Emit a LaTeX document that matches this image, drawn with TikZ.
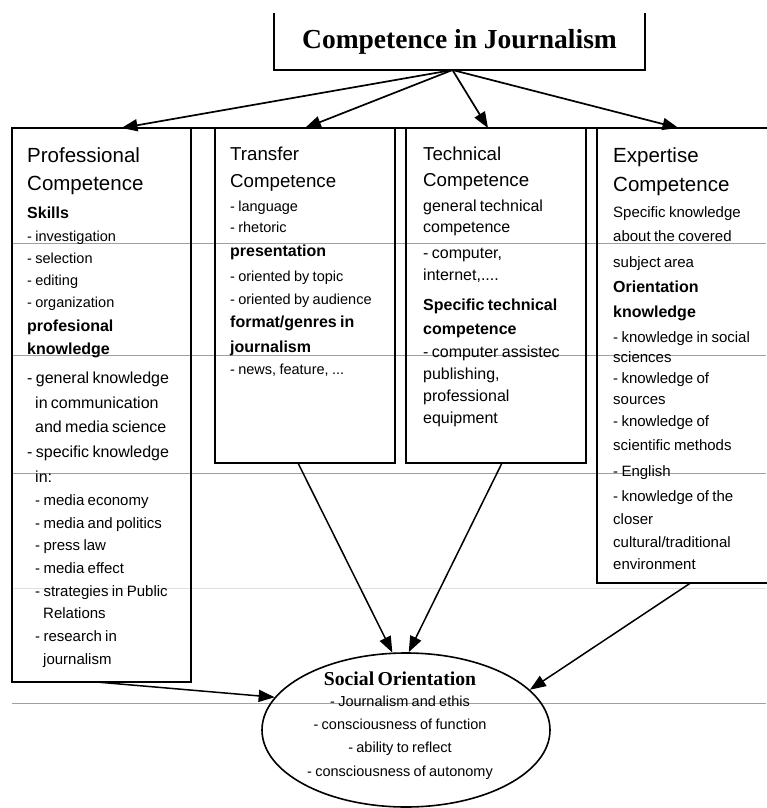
\documentclass[tikz,border=0pt]{standalone}
\usepackage{fontspec}
\setmainfont{Liberation Sans}
\newfontfamily\titlefont{Liberation Serif}
\usetikzlibrary{arrows.meta,positioning,shapes.geometric}
\setlength{\parindent}{0pt}

\newcommand\chead[2][27]{{\fontsize{20.5}{#1}\selectfont #2\par}}
\newcommand\cheadsm[2][26]{{\fontsize{18.7}{#1}\selectfont #2\par}}
\newcommand\csub[2][23]{{\fontsize{16}{#1}\selectfont\bfseries #2\par}}
\newcommand\cbody[2][24]{{\fontsize{16}{#1}\selectfont #2\par}}
\newcommand\citem[2][22]{{\fontsize{14.5}{#1}\selectfont #2\par}}
\newcommand\citemlg[2][23]{{\fontsize{15}{#1}\selectfont #2\par}}

\begin{document}
\begin{tikzpicture}[x=1pt,y=-1pt,
  colbox/.style={draw,line width=1.4pt,anchor=north west,inner sep=0,outer sep=0},
  coltext/.style={anchor=north west,inner sep=0,text width=200pt,align=left},
  rule/.style={draw=gray!75,line width=0.8pt},
  arr/.style={-{Triangle[length=16pt,width=12pt]},line width=1.7pt}]
\useasboundingbox (0,0) rectangle (766,808);

% faint ruling of the scanned table
\draw[rule] (12,243) -- (766,243) (12,355) -- (766,355)
  (12,473) -- (766,473) (12,703) -- (766,703);
\draw[gray!25,line width=0.8pt] (12,588) -- (766,588);
\draw[line width=1.2pt] (12,128) -- (766,128);

\node[minimum width=371pt,minimum height=57pt,inner sep=0,outer sep=0,
  font=\titlefont\bfseries\fontsize{27.5}{30}\selectfont] (top) at (459.5,41.5)
  {Competence in Journalism};
\draw[line width=1.4pt] (top.north west) |- (top.south east) -- (top.north east);
\coordinate (hub) at ([xshift=-7pt]top.south);

\node[colbox,minimum width=179pt,minimum height=554pt] (prof) at (12,128) {};
\node[colbox,minimum width=180pt,minimum height=335pt] (transfer) at (215,128) {};
\node[colbox,minimum width=180pt,minimum height=335pt] (technical) at (406,128) {};
\node[colbox,minimum width=173pt,minimum height=455pt] (expertise) at (597,128) {};

\node[coltext] (proftext) at (27,147) {%
\chead{Professional}
\chead[28]{Competence}
\csub[28]{Skills}
\citem[23]{- investigation}
\citem{- selection}
\citem{- editing}
\citem{- organization}
\csub[24]{profesional}
\csub[23]{knowledge}
\cbody[29]{- general knowledge}
\cbody[25]{\hspace*{8pt}in communication}
\cbody{\hspace*{8pt}and media science}
\cbody[25]{- specific knowledge}
\cbody[25]{\hspace*{8pt}in:}
\citemlg{\hspace*{8pt}- media economy}
\citemlg{\hspace*{8pt}- media and politics}
\citemlg[22]{\hspace*{8pt}- press law}
\citemlg{\hspace*{8pt}- media effect}
\citemlg{\hspace*{8pt}- strategies in Public}
\citemlg[22]{\hspace*{16pt}Relations}
\citemlg{\hspace*{8pt}- research in}
\citemlg{\hspace*{16pt}journalism}};

\node[coltext] (transfertext) at (230,146.4) {%
\cheadsm{Transfer}
\cheadsm[27]{Competence}
\citem[24]{- language}
\citem[21]{- rhetoric}
\csub[24]{presentation}
\citem[25]{- oriented by topic}
\citem[23]{- oriented by audience}
\csub[23]{format/genres in}
\csub[25]{journalism}
\citem[22]{- news, feature, ...}};

\node[coltext] (technicaltext) at (423,146.4) {%
\cheadsm{Technical}
\cheadsm[26]{Competence}
\cbody[25]{general technical}
\cbody[21]{competence}
\cbody[26]{- computer,}
\cbody[22]{internet,....}
\csub[30]{Specific technical}
\csub[24]{competence}
\cbody[23]{- computer assistec}
\cbody[22]{publishing,}
\cbody[22]{professional}
\cbody[22]{equipment}};

\node[coltext] (expertisetext) at (613,147) {%
\chead{Expertise}
\chead[29]{Competence}
\citemlg[26]{Specific knowledge}
\citemlg[24]{about the covered}
\citemlg[26]{subject area}
\csub[25]{Orientation}
\csub[25]{knowledge}
\citemlg[25]{- knowledge in social}
\citemlg[20]{sciences}
\citemlg[21]{- knowledge of}
\citemlg[21]{sources}
\citemlg[22]{- knowledge of}
\citemlg[24]{scientific methods}
\citemlg[26]{- English}
\citemlg[25]{- knowledge of the}
\citemlg[23]{closer}
\citemlg[23]{cultural/traditional}
\citemlg[22]{environment}};

\node[ellipse,draw,line width=1.6pt,minimum width=288pt,minimum height=154pt,
  inner sep=0] (social) at (406,730) {};
\node[anchor=north,inner sep=0,text width=260pt,align=center] (socialtext) at (400,671.6) {%
{\titlefont\bfseries\fontsize{19.7}{21}\selectfont Social Orientation\par}
\citem[21]{- Journalism and ethis}
\citem[23]{- consciousness of function}
\citem[23]{- ability to reflect}
\citem[24]{- consciousness of autonomy}};

\draw[arr] (hub) -- ([xshift=20pt]prof.north);
\draw[arr] (hub) -- (transfer.north);
\draw[arr] (hub) -- ([xshift=-8pt]technical.north);
\draw[arr] (hub) -- ([xshift=-5pt]expertise.north);

\draw[arr,line width=1.5pt] ([xshift=-5pt]prof.south) -- (social.166);
\draw[arr,line width=1.5pt] ([xshift=-7pt]transfer.south) -- (social.100);
\draw[arr,line width=1.5pt] ([xshift=6pt]technical.south) -- (social.88);
\draw[arr,line width=1.5pt] ([xshift=7pt]expertise.south) -- (social.18);
\end{tikzpicture}
\end{document}
